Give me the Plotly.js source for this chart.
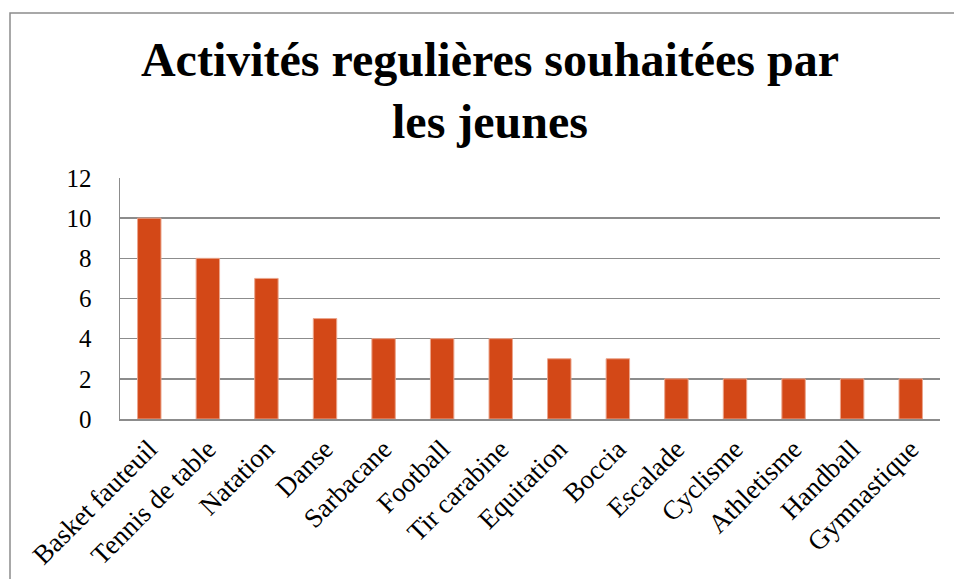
<!DOCTYPE html>
<html>
<head>
<meta charset="utf-8">
<script src="https://cdn.plot.ly/plotly-3.0.1.min.js"></script>
<style>
  html, body { margin: 0; padding: 0; background: #fff; }
  #chart { width: 954px; height: 579px; }
</style>
</head>
<body>
<div id="chart"></div>
<script>
const categories = ["Basket fauteuil", "Tennis de table", "Natation", "Danse", "Sarbacane", "Football", "Tir carabine", "Equitation", "Boccia", "Escalade", "Cyclisme", "Athletisme", "Handball", "Gymnastique"];
const values = [10, 8, 7, 5, 4, 4, 4, 3, 3, 2, 2, 2, 2, 2];
const yTicks = [0, 2, 4, 6, 8, 10, 12];
const titleText = "Activités regulières souhaitées par<br>les jeunes";

const W = 954, H = 579;
const L = 120, R = 940, T = 178, B = 419;
const px = x => (x - L) / (R - L);
const py = y => (B - y) / (B - T);
const serif = "Liberation Serif, Times New Roman, serif";

const trace = {
  type: "bar",
  x: categories,
  y: values,
  marker: { color: "#D34817", line: { color: "#EBA58C", width: 1 } },
  hoverinfo: "x+y"
};

const layout = {
  width: W, height: H,
  paper_bgcolor: "#ffffff",
  plot_bgcolor: "#ffffff",
  margin: { l: L, r: W - R, t: T, b: H - B, pad: 0 },
  bargap: 0.6,
  showlegend: false,
  font: { family: serif, color: "#000" },
  title: {
    text: titleText,
    font: { family: serif, size: 48, color: "#000", weight: "bold" },
    x: 490 / W, xanchor: "center",
    y: 1 - 76 / H, yanchor: "top",
    yref: "container"
  },
  xaxis: {
    type: "category",
    tickangle: -45,
    tickfont: { size: 27, family: serif, color: "#000" },
    showline: true, linecolor: "#8c8c8c", linewidth: 1.5,
    ticks: "", showgrid: false, fixedrange: true, automargin: false,
    ticklabelstandoff: 2
  },
  yaxis: {
    range: [0, 12],
    tickvals: yTicks,
    ticktext: yTicks.map(String),
    tickfont: { size: 25, family: serif, color: "#000" },
    showgrid: true, gridcolor: "#8c8c8c", gridwidth: 1.5,
    showline: true, linecolor: "#8c8c8c", linewidth: 1.5,
    zeroline: false, ticks: "", ticklabelstandoff: 22,
    fixedrange: true, automargin: false
  },
  shapes: [{
    type: "path", xref: "paper", yref: "paper",
    path: `M ${px(10)} ${py(600)} L ${px(10)} ${py(13)} L ${px(970)} ${py(13)}`,
    line: { color: "#8c8c8c", width: 1.5 }
  }]
};

Plotly.newPlot("chart", [trace], layout, { displayModeBar: false, staticPlot: true });
</script>
</body>
</html>
